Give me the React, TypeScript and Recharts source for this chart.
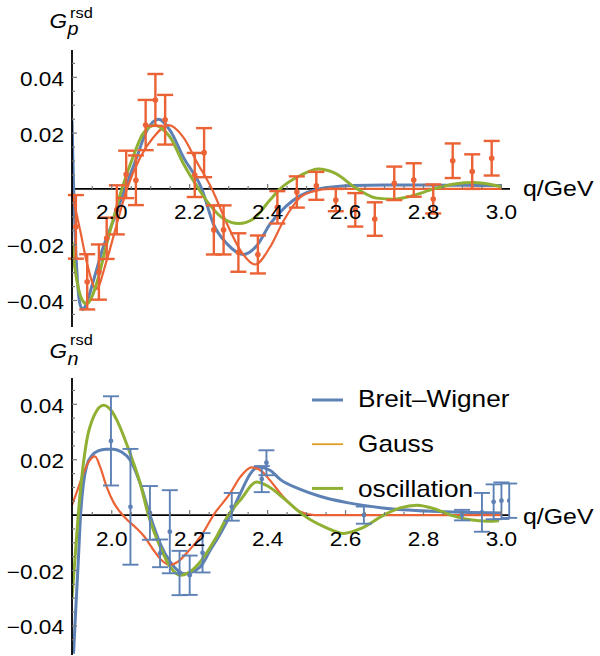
import React from 'react';
import { ComposedChart, Line, Scatter, ErrorBar, XAxis, YAxis, ReferenceLine } from 'recharts';

const C_BLUE = '#5E81B5';
const C_RED = '#EB6235';
const C_GREEN = '#8FB032';
const C_GAUSS_LEG = '#E19C24';
const FONT = '"Liberation Sans", Arial, Helvetica, sans-serif';
const SX = 1.13;

const xDomain: [number, number] = [1.898, 3.022];
const xTicks = [1.95, 2.0, 2.05, 2.1, 2.15, 2.2, 2.25, 2.3, 2.35, 2.4, 2.45, 2.5, 2.55, 2.6, 2.65, 2.7, 2.75, 2.8, 2.85, 2.9, 2.95, 3.0];
const xMajor = [2.0, 2.2, 2.4, 2.6, 2.8, 3.0];
const yTicks = [-0.045, -0.04, -0.035, -0.03, -0.025, -0.02, -0.015, -0.01, -0.005, 0.005, 0.01, 0.015, 0.02, 0.025, 0.03, 0.035, 0.04, 0.045];
const yMajor = [-0.04, -0.02, 0.02, 0.04];
const yDomainP: [number, number] = [-0.0495, 0.0498];
const yDomainN: [number, number] = [-0.0505, 0.0495];

// ---- proton panel ----
const bwP = [
  { q: 1.898, v: 0.0245 }, { q: 1.9, v: 0.012 }, { q: 1.903, v: -0.004 }, { q: 1.907, v: -0.02 },
  { q: 1.912, v: -0.033 }, { q: 1.918, v: -0.041 }, { q: 1.926, v: -0.0432 }, { q: 1.935, v: -0.041 },
  { q: 1.953, v: -0.0329 }, { q: 1.978, v: -0.0209 }, { q: 2.004, v: -0.0114 }, { q: 2.034, v: 0.0 },
  { q: 2.064, v: 0.0113 }, { q: 2.09, v: 0.0209 }, { q: 2.12, v: 0.025 }, { q: 2.15, v: 0.0209 },
  { q: 2.184, v: 0.0113 }, { q: 2.231, v: 0.0 }, { q: 2.261, v: -0.0126 }, { q: 2.296, v: -0.0197 },
  { q: 2.338, v: -0.0235 }, { q: 2.372, v: -0.0204 }, { q: 2.406, v: -0.0126 }, { q: 2.449, v: -0.006 },
  { q: 2.484, v: -0.0024 }, { q: 2.52, v: -0.0004 }, { q: 2.56, v: 0.0006 }, { q: 2.62, v: 0.0012 },
  { q: 2.7, v: 0.0014 }, { q: 2.8, v: 0.0014 }, { q: 2.9, v: 0.0013 }, { q: 3.0, v: 0.0012 },
];
const gaussP = [
  { q: 1.898, v: -0.0015 }, { q: 1.905, v: -0.006 }, { q: 1.919, v: -0.0149 }, { q: 1.937, v: -0.0269 },
  { q: 1.96, v: -0.0359 }, { q: 1.987, v: -0.0256 }, { q: 2.013, v: -0.0126 }, { q: 2.039, v: 0.0 },
  { q: 2.073, v: 0.0113 }, { q: 2.107, v: 0.0185 }, { q: 2.146, v: 0.0229 }, { q: 2.184, v: 0.0185 },
  { q: 2.219, v: 0.0095 }, { q: 2.257, v: 0.0 }, { q: 2.296, v: -0.0126 }, { q: 2.33, v: -0.022 },
  { q: 2.368, v: -0.0271 }, { q: 2.406, v: -0.0209 }, { q: 2.441, v: -0.0114 }, { q: 2.484, v: -0.003 },
  { q: 2.52, v: -0.0008 }, { q: 2.56, v: 0.0 }, { q: 3.0, v: 0.0 },
];
const oscP = [
  { q: 1.898, v: -0.019 }, { q: 1.905, v: -0.028 }, { q: 1.915, v: -0.036 }, { q: 1.925, v: -0.04 },
  { q: 1.936, v: -0.0413 }, { q: 1.948, v: -0.039 }, { q: 1.961, v: -0.034 }, { q: 1.987, v: -0.0197 },
  { q: 2.026, v: 0.0 }, { q: 2.056, v: 0.012 }, { q: 2.081, v: 0.02 }, { q: 2.111, v: 0.0228 },
  { q: 2.13, v: 0.0215 }, { q: 2.15, v: 0.0185 }, { q: 2.184, v: 0.009 }, { q: 2.223, v: 0.0 },
  { q: 2.253, v: -0.006 }, { q: 2.287, v: -0.0107 }, { q: 2.326, v: -0.0124 }, { q: 2.364, v: -0.0107 },
  { q: 2.406, v: -0.004 }, { q: 2.432, v: 0.0 }, { q: 2.484, v: 0.0048 }, { q: 2.531, v: 0.0071 },
  { q: 2.57, v: 0.0058 }, { q: 2.63, v: 0.0 }, { q: 2.68, v: -0.0033 }, { q: 2.724, v: -0.0037 },
  { q: 2.77, v: -0.0025 }, { q: 2.827, v: 0.0 }, { q: 2.88, v: 0.0018 }, { q: 2.93, v: 0.0023 },
  { q: 2.97, v: 0.0017 }, { q: 3.0, v: 0.0008 },
];
const dataP = [
  { q: 1.908, v: -0.0136, err: 0.0114 }, { q: 1.937, v: -0.0333, err: 0.0099 }, { q: 1.967, v: -0.0298, err: 0.0099 },
  { q: 1.987, v: -0.0177, err: 0.0074 }, { q: 2.013, v: -0.0075, err: 0.0088 }, { q: 2.037, v: 0.0052, err: 0.0085 },
  { q: 2.062, v: 0.0031, err: 0.0089 }, { q: 2.087, v: 0.0229, err: 0.009 }, { q: 2.112, v: 0.0319, err: 0.0093 },
  { q: 2.137, v: 0.0248, err: 0.0089 }, { q: 2.213, v: 0.005, err: 0.0079 }, { q: 2.237, v: 0.013, err: 0.0088 },
  { q: 2.262, v: -0.0147, err: 0.0088 }, { q: 2.287, v: -0.0147, err: 0.0088 }, { q: 2.325, v: -0.0228, err: 0.0069 },
  { q: 2.375, v: -0.0235, err: 0.0068 }, { q: 2.425, v: -0.0066, err: 0.0058 }, { q: 2.475, v: -0.0011, err: 0.0056 },
  { q: 2.525, v: 0.0011, err: 0.005 }, { q: 2.575, v: -0.004, err: 0.004 }, { q: 2.625, v: -0.0075, err: 0.006 },
  { q: 2.675, v: -0.0108, err: 0.006 }, { q: 2.725, v: 0.002, err: 0.006 }, { q: 2.775, v: 0.0032, err: 0.006 },
  { q: 2.825, v: -0.0036, err: 0.0052 }, { q: 2.875, v: 0.0101, err: 0.0062 }, { q: 2.925, v: 0.0062, err: 0.0062 },
  { q: 2.975, v: 0.011, err: 0.0062 },
];

// ---- neutron panel ----
const bwN = [
  { q: 1.902, v: -0.05 }, { q: 1.908, v: -0.033 }, { q: 1.914, v: -0.017 }, { q: 1.92, v: 0.0 },
  { q: 1.927, v: 0.011 }, { q: 1.936, v: 0.018 }, { q: 1.949, v: 0.0215 }, { q: 1.965, v: 0.0232 },
  { q: 1.985, v: 0.0238 }, { q: 2.005, v: 0.0238 }, { q: 2.025, v: 0.0228 }, { q: 2.047, v: 0.0199 },
  { q: 2.073, v: 0.0114 }, { q: 2.098, v: 0.0 }, { q: 2.124, v: -0.0102 }, { q: 2.15, v: -0.0169 },
  { q: 2.188, v: -0.0212 }, { q: 2.227, v: -0.0187 }, { q: 2.253, v: -0.0126 }, { q: 2.279, v: -0.0066 },
  { q: 2.304, v: 0.0 }, { q: 2.33, v: 0.0078 }, { q: 2.355, v: 0.0148 }, { q: 2.376, v: 0.0174 },
  { q: 2.406, v: 0.0162 }, { q: 2.433, v: 0.0128 }, { q: 2.484, v: 0.0093 }, { q: 2.53, v: 0.007 },
  { q: 2.604, v: 0.0045 }, { q: 2.69, v: 0.0027 }, { q: 2.82, v: 0.0014 }, { q: 3.0, v: 0.0008 },
];
const gaussN = [
  { q: 1.898, v: 0.0036 }, { q: 1.912, v: 0.009 }, { q: 1.927, v: 0.015 }, { q: 1.942, v: 0.0195 },
  { q: 1.957, v: 0.0212 }, { q: 1.97, v: 0.0175 }, { q: 1.987, v: 0.0102 }, { q: 2.005, v: 0.0045 },
  { q: 2.021, v: 0.0012 }, { q: 2.04, v: -0.0018 }, { q: 2.064, v: -0.0048 }, { q: 2.085, v: -0.008 },
  { q: 2.107, v: -0.0126 }, { q: 2.128, v: -0.0163 }, { q: 2.15, v: -0.018 }, { q: 2.17, v: -0.0168 },
  { q: 2.192, v: -0.0138 }, { q: 2.236, v: -0.006 }, { q: 2.261, v: 0.0 }, { q: 2.304, v: 0.0079 },
  { q: 2.33, v: 0.0138 }, { q: 2.359, v: 0.0172 }, { q: 2.385, v: 0.0158 }, { q: 2.406, v: 0.0126 },
  { q: 2.44, v: 0.0066 }, { q: 2.484, v: 0.0012 }, { q: 2.52, v: 0.0 }, { q: 3.0, v: 0.0 },
];
const oscN = [
  { q: 1.898, v: -0.03 }, { q: 1.906, v: -0.015 }, { q: 1.914, v: 0.0 }, { q: 1.925, v: 0.016 },
  { q: 1.936, v: 0.027 }, { q: 1.955, v: 0.036 }, { q: 1.979, v: 0.0397 }, { q: 2.0, v: 0.0375 },
  { q: 2.013, v: 0.0343 }, { q: 2.047, v: 0.0223 }, { q: 2.073, v: 0.0115 }, { q: 2.094, v: 0.0 },
  { q: 2.124, v: -0.0114 }, { q: 2.15, v: -0.0187 }, { q: 2.176, v: -0.0217 }, { q: 2.2, v: -0.0205 },
  { q: 2.227, v: -0.0169 }, { q: 2.269, v: -0.0078 }, { q: 2.299, v: 0.0 }, { q: 2.33, v: 0.0054 },
  { q: 2.372, v: 0.012 }, { q: 2.4, v: 0.0105 }, { q: 2.44, v: 0.0062 }, { q: 2.47, v: 0.0025 },
  { q: 2.492, v: 0.0 }, { q: 2.55, v: -0.0045 }, { q: 2.595, v: -0.0066 }, { q: 2.64, v: -0.0048 },
  { q: 2.698, v: 0.0 }, { q: 2.74, v: 0.0026 }, { q: 2.783, v: 0.0036 }, { q: 2.83, v: 0.0022 },
  { q: 2.87, v: 0.0 }, { q: 2.92, v: -0.0017 }, { q: 2.964, v: -0.0022 }, { q: 2.994, v: -0.002 },
];
const dataN = [
  { q: 1.998, v: 0.0268, err: 0.0161 }, { q: 2.048, v: 0.003, err: 0.0209 }, { q: 2.098, v: 0.0008, err: 0.0097 },
  { q: 2.124, v: -0.0138, err: 0.005 }, { q: 2.149, v: -0.006, err: 0.015 }, { q: 2.174, v: -0.0209, err: 0.008 },
  { q: 2.2, v: -0.0217, err: 0.0071 }, { q: 2.233, v: -0.0136, err: 0.0071 }, { q: 2.308, v: 0.003, err: 0.005 },
  { q: 2.385, v: 0.013, err: 0.0047 }, { q: 2.397, v: 0.0189, err: 0.0045 }, { q: 2.647, v: 0.0, err: 0.0031 },
  { q: 2.899, v: 0.0, err: 0.0019 }, { q: 2.95, v: 0.001, err: 0.007 }, { q: 2.98, v: 0.0048, err: 0.0063 },
  { q: 3.0, v: 0.0052, err: 0.0066 }, { q: 3.02, v: 0.0052, err: 0.0062 },
];

const legendItems = [
  { name: 'Breit\u2013Wigner', color: C_BLUE, width: 3 },
  { name: 'Gauss', color: C_GAUSS_LEG, width: 1.8 },
  { name: 'oscillation', color: C_GREEN, width: 3 },
];

const PLOT_LEFT = 72;

const near = (a: number, list: number[]) => list.some((m) => Math.abs(a - m) < 1e-6);
const fmtY = (v: number) => (v < 0 ? '\u2212' : '') + Math.abs(v).toFixed(2);

type PanelProps = {
  h: number; mt: number; mb: number; yDomain: [number, number];
  bw: any[]; gauss: any[]; osc: any[]; pts: any[]; ptColor: string; errW: number; dotR: number;
  sub: string; supY: number; qY: number; legend?: boolean;
};

function Panel(props: PanelProps) {
  const { h, mt, mb, yDomain, bw, gauss, osc, pts, ptColor, errW, dotR, sub, supY, qY, legend } = props;
  const plotH = h - mt - mb - 1;
  const zeroY = mt + (plotH * yDomain[1]) / (yDomain[1] - yDomain[0]);

  const XTick = (p: any) => {
    const v = p.payload.value;
    const major = near(v, xMajor);
    return (
      <g>
        <line x1={p.x} x2={p.x} y1={zeroY} y2={zeroY - (major ? 5 : 3)} stroke="#777" strokeWidth={1.2} />
        {major && (
          <text transform={`translate(${p.x},${zeroY + 30.5}) scale(${SX},1)`} textAnchor="middle"
            fontFamily={FONT} fontSize={20} fill="#000">{v.toFixed(1)}</text>
        )}
      </g>
    );
  };
  const YTick = (p: any) => {
    const v = p.payload.value;
    const major = near(v, yMajor);
    return (
      <g>
        <line x1={PLOT_LEFT} x2={PLOT_LEFT + (major ? 5 : 3)} y1={p.y} y2={p.y} stroke="#777" strokeWidth={1.2} />
        {major && (
          <text transform={`translate(${PLOT_LEFT - 8},${p.y + 8.5}) scale(${SX},1)`} textAnchor="end"
            fontFamily={FONT} fontSize={20} fill="#000">{fmtY(v)}</text>
        )}
      </g>
    );
  };

  return (
    <ComposedChart width={600} height={h} margin={{ top: mt, right: 90, bottom: mb, left: 0 }}>
      <XAxis type="number" dataKey="q" domain={xDomain} ticks={xTicks} interval={0} height={1}
        axisLine={false} tickLine={false} tickSize={0} tickMargin={0} tick={XTick} allowDataOverflow />
      <YAxis type="number" domain={yDomain} ticks={yTicks} interval={0} width={72}
        axisLine={{ stroke: '#000', strokeWidth: 1.8 }} tickLine={false} tickSize={0} tickMargin={0}
        tick={YTick} allowDataOverflow />
      <ReferenceLine y={0} stroke="#000" strokeWidth={1.8} />
      <Line data={bw} dataKey="v" type="monotone" stroke={C_BLUE} strokeWidth={3} dot={false} activeDot={false} isAnimationActive={false} />
      <Line data={gauss} dataKey="v" type="monotone" stroke={C_RED} strokeWidth={2.2} dot={false} activeDot={false} isAnimationActive={false} />
      <Line data={osc} dataKey="v" type="monotone" stroke={C_GREEN} strokeWidth={3} dot={false} activeDot={false} isAnimationActive={false} />
      <Scatter data={pts} dataKey="v" fill={ptColor} isAnimationActive={false}
        shape={(s: any) => <circle cx={s.cx} cy={s.cy} r={dotR} fill={ptColor} />}>
        <ErrorBar dataKey="err" direction="y" width={8} stroke={ptColor} strokeWidth={errW} />
      </Scatter>
      <text transform={`translate(49.5,28.3) scale(${SX},1)`} fontFamily={FONT} fontSize={20} fontStyle="italic" fill="#000">G</text>
      <text transform={`translate(70,${supY}) scale(${SX},1)`} fontFamily={FONT} fontSize={14.5} fill="#000">rsd</text>
      <text transform={`translate(67.5,34.5) scale(${SX},1)`} fontFamily={FONT} fontSize={17.5} fontStyle="italic" fill="#000">{sub}</text>
      <text transform={`translate(523,${qY}) scale(${SX},1)`} fontFamily={FONT} fontSize={22} fill="#000">q/GeV</text>
      {legend && legendItems.map((it, i) => (
        <g key={it.name}>
          <line x1={312} x2={343} y1={70 + i * 44.2} y2={70 + i * 44.2} stroke={it.color} strokeWidth={it.width} />
          <text transform={`translate(358,${76.7 + i * 45}) scale(1.14,1)`} fontFamily={FONT} fontSize={23} fill="#000">{it.name}</text>
        </g>
      ))}
    </ComposedChart>
  );
}

export default function App() {
  return (
    <div style={{ position: 'absolute', left: 0, top: 0, width: 600, height: 656, background: '#fff' }}>
      <Panel h={330} mt={50} mb={2} yDomain={yDomainP} bw={bwP} gauss={gaussP} osc={oscP} pts={dataP}
        ptColor={C_RED} errW={2.4} dotR={2.8} sub="p" supY={18.3} qY={196} />
      <Panel h={326} mt={48} mb={0} yDomain={yDomainN} bw={bwN} gauss={gaussN} osc={oscN} pts={dataN}
        ptColor={C_BLUE} errW={1.9} dotR={2.4} sub="n" supY={15} qY={194} legend />
    </div>
  );
}
